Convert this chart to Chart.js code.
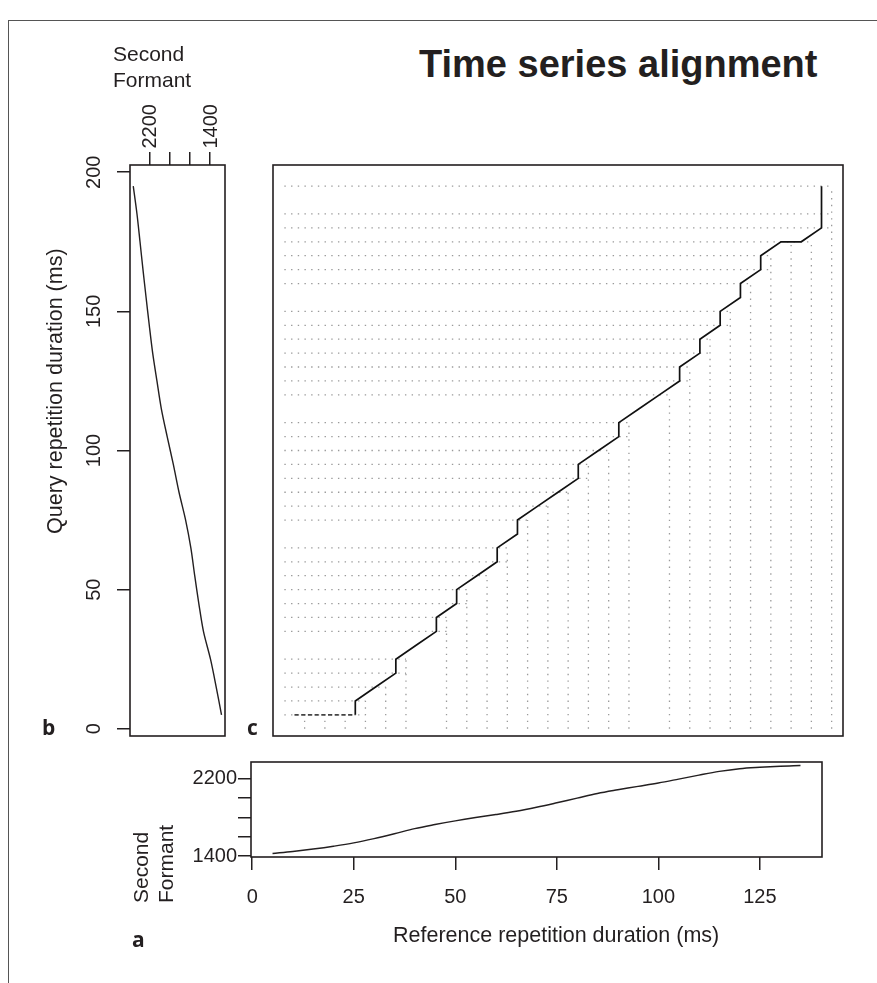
<!DOCTYPE html>
<html><head><meta charset="utf-8">
<script src="https://cdn.jsdelivr.net/npm/chart.js@4/dist/chart.umd.min.js"></script>
<style>
html,body{margin:0;padding:0;background:#fff;width:877px;height:983px;overflow:hidden;}
body{position:relative;color:#231f20;}
.frame{position:absolute;left:8px;top:20px;width:900px;height:1000px;border-left:1.5px solid #555;border-top:1.5px solid #555;}
canvas{position:absolute;}
.t{position:absolute;white-space:nowrap;color:#231f20;}
</style></head><body>
<div class="frame"></div>
<canvas id="cb" width="240" height="760" style="left:0;top:0"></canvas>
<canvas id="cc" width="590" height="591" style="left:263px;top:155px"></canvas>
<canvas id="ca" width="877" height="243" style="left:0;top:740px"></canvas>
<script>
// ---------------- data ----------------
// reference series (panel a): time (ms) and second formant (Hz)
const refTime    = [5,10,15,20,25,30,35,40,45,50,55,60,65,70,75,80,85,90,95,100,105,110,115,120,125,130,135];
const refFormant = [1427,1448,1473,1502,1536,1580,1630,1683,1725,1763,1797,1828,1862,1903,1949,1997,2045,2083,2118,2153,2193,2234,2272,2300,2315,2326,2333];
// query series (panel b): time (ms) and second formant (Hz)
const queryTime    = [5,15,25,35,45,55,65,75,85,95,105,115,125,135,145,155,165,175,185,195];
const queryFormant = [1248,1318,1393,1486,1547,1601,1652,1721,1808,1883,1964,2041,2099,2155,2200,2242,2283,2322,2362,2411];
// warping path (panel c)
const pathRef   = [5,10,15,20,20,25,30,30,35,40,40,45,45,50,55,55,60,60,65,70,75,75,80,85,85,90,95,100,100,105,105,110,110,115,115,120,120,125,130,135,135,135,135];
const pathQuery = [5,5,5,5,10,15,20,25,30,35,40,45,50,55,60,65,70,75,80,85,90,95,100,105,110,115,120,125,130,135,140,145,150,155,160,165,170,175,175,180,185,190,195];
// matched-index guide lines (dotted) in panel c
const guideRef   = [7.5,12.5,17.5,22.5,22.5,27.5,32.5,32.5,42.5,42.5,47.5,47.5,52.5,57.5,57.5,62.5,67.5,72.5,77.5,77.5,82.5,87.5,87.5,97.5,102.5,102.5,107.5,107.5,112.5,112.5,117.5,122.5,122.5,127.5,132.5,137.5,137.5,137.5];
const guideQuery = [5,5,5,5,10,15,20,25,35,40,45,50,55,60,65,75,80,85,90,95,100,105,110,120,125,130,135,140,145,150,160,165,170,175,175,180,185,195];
const guideOriginRef = 2.5, guideOriginQuery = 0;
// ticks
const timeTicks = [0,50,100,150,200];
const refTicks = [0,25,50,75,100,125];
const formantTicksA = [1400,1600,1800,2000,2200];
const formantLabelsA = ['1400','','','','2200'];
const formantTicksB = [2200,1933.33,1666.67,1400];
const formantLabelsB = ['2200','','','1400'];

// ---------------- style ----------------
const INK = '#231f20';
const FONT = '"Liberation Sans", Arial, Helvetica, sans-serif';
const TICKFONT = {family: FONT, size: 20};

const boxPlugin = {id:'box', afterDatasetsDraw(chart){
  const {ctx, chartArea:a} = chart;
  ctx.save(); ctx.strokeStyle = INK; ctx.lineWidth = 1.6;
  ctx.strokeRect(a.left, a.top, a.right-a.left, a.bottom-a.top); ctx.restore();
}};

const commonOpts = {responsive:false, animation:false, events:[], devicePixelRatio:1,
  plugins:{legend:{display:false}, tooltip:{enabled:false}, title:{display:false}}};
const tickGrid = {display:true, drawOnChartArea:false, drawTicks:true, tickLength:13, color:INK, lineWidth:1.5};

// ---------------- panel b ----------------
const rotLabelsB = {id:'rotB', afterDraw(chart){
  const ctx = chart.ctx, xs = chart.scales.x, ys = chart.scales.y, a = chart.chartArea;
  ctx.save(); ctx.fillStyle = INK; ctx.font = '20px ' + FONT; ctx.textBaseline = 'alphabetic';
  ys.ticks.forEach(t => {
    const py = ys.getPixelForValue(t.value);
    ctx.save(); ctx.translate(a.left - 30, py); ctx.rotate(-Math.PI/2);
    ctx.textAlign = 'center'; ctx.fillText(String(t.value), 0, 0); ctx.restore();
  });
  xs.ticks.forEach(t => {
    const lab = formantLabelsB[formantTicksB.indexOf(t.value)];
    if (!lab) return;
    const px = xs.getPixelForValue(t.value);
    ctx.save(); ctx.translate(px + 7.2, a.top - 16.5); ctx.rotate(-Math.PI/2);
    ctx.textAlign = 'left'; ctx.fillText(lab, 0, 0); ctx.restore();
  });
  ctx.restore();
}};
new Chart(document.getElementById('cb'), {
  type:'line',
  data:{datasets:[{data: queryTime.map((t,i)=>({x:queryFormant[i], y:t})),
    borderColor:INK, borderWidth:1.4, pointRadius:0, tension:0.3, fill:false}]},
  options:Object.assign({}, commonOpts, {
    layout:{padding:{left:0, top:0, right:15, bottom:24}},
    scales:{
      x:{type:'linear', position:'top', reverse:true, min:1202, max:2454,
         afterBuildTicks:s=>{s.ticks = formantTicksB.map(v=>({value:v}));},
         afterFit:s=>{s.height = 165;},
         ticks:{display:false}, grid:tickGrid, border:{display:false}},
      y:{type:'linear', min:-2.6, max:202.6,
         afterBuildTicks:s=>{s.ticks = timeTicks.map(v=>({value:v}));},
         afterFit:s=>{s.width = 130;},
         ticks:{display:false}, grid:tickGrid, border:{display:false}}
    }}),
  plugins:[boxPlugin, rotLabelsB]
});

// ---------------- panel c ----------------
const guideData = [];
guideRef.forEach((x,i) => {
  const y = guideQuery[i];
  guideData.push({x:guideOriginRef, y}, {x, y}, {x, y:null}, {x, y:guideOriginQuery}, {x, y}, {x, y:null});
});
const firstRow = pathQuery[0];
new Chart(document.getElementById('cc'), {
  type:'line',
  data:{datasets:[
    {data: pathRef.map((x,i)=>({x, y:pathQuery[i]})), borderColor:'#111', borderWidth:1.7,
     pointRadius:0, tension:0, fill:false, order:0,
     segment:{borderDash: c => (c.p0.parsed.y === firstRow && c.p1.parsed.y === firstRow) ? [4,2.7] : undefined,
              borderColor: c => (c.p0.parsed.y === firstRow && c.p1.parsed.y === firstRow) ? '#444' : undefined}},
    {data: guideData, borderColor:'#9a9a9a', borderWidth:1.3, borderDash:[1.4,5.3],
     pointRadius:0, tension:0, fill:false, spanGaps:false, order:1}
  ]},
  options:Object.assign({}, commonOpts, {
    layout:{padding:10},
    scales:{
      x:{type:'linear', display:false, min:-0.3, max:140.3},
      y:{type:'linear', display:false, min:-2.6, max:202.6}
    }}),
  plugins:[boxPlugin]
});

// ---------------- panel a ----------------
new Chart(document.getElementById('ca'), {
  type:'line',
  data:{datasets:[{data: refTime.map((t,i)=>({x:t, y:refFormant[i]})),
    borderColor:INK, borderWidth:1.4, pointRadius:0, tension:0.35, fill:false}]},
  options:Object.assign({}, commonOpts, {
    layout:{padding:{left:0, top:22, right:55, bottom:0}},
    scales:{
      x:{type:'linear', position:'bottom', min:-0.3, max:140.3,
         afterBuildTicks:s=>{s.ticks = refTicks.map(v=>({value:v}));},
         afterFit:s=>{s.height = 126;},
         ticks:{display:true, autoSkip:false, maxRotation:0, minRotation:0, padding:15.5, color:INK, font:TICKFONT,
                callback:v=>String(v)},
         grid:tickGrid, border:{display:false}},
      y:{type:'linear', min:1391, max:2369,
         afterBuildTicks:s=>{s.ticks = formantTicksA.map(v=>({value:v}));},
         afterFit:s=>{s.width = 251;},
         ticks:{display:true, autoSkip:false, padding:1, color:INK, font:TICKFONT,
                callback:v=>formantLabelsA[formantTicksA.indexOf(v)]},
         grid:tickGrid, border:{display:false}}
    }}),
  plugins:[boxPlugin]
});

// ---------------- text ----------------
function placeText(txt, x, y, o){
  const s = document.createElement('span');
  s.className = 't';
  s.style.font = (o.weight||'normal') + ' ' + o.size + 'px ' + (o.family || FONT);
  s.style.lineHeight = o.size + 'px';
  s.textContent = txt;
  const m = document.createElement('i');
  m.style.cssText = 'display:inline-block;width:0;height:0;vertical-align:baseline;';
  s.appendChild(m);
  document.body.appendChild(s);
  const base = m.offsetTop, w = s.offsetWidth;
  const ax = o.align === 'center' ? w/2 : (o.align === 'right' ? w : 0);
  s.style.left = (x - ax) + 'px';
  s.style.top = (y - base) + 'px';
  if (o.rotate) { s.style.transformOrigin = ax + 'px ' + base + 'px'; s.style.transform = 'rotate(' + o.rotate + 'deg)'; }
}
placeText('Time series alignment', 618, 77, {size:38, weight:'bold', align:'center'});
placeText('Second', 113, 61, {size:21});
placeText('Formant', 113, 86.7, {size:21});
placeText('Query repetition duration (ms)', 62, 391, {size:21.5, align:'center', rotate:-90});
placeText('Second', 148, 903, {size:21, rotate:-90});
placeText('Formant', 173, 903, {size:21, rotate:-90});
placeText('Reference repetition duration (ms)', 556, 941.7, {size:21.5, align:'center'});
const LFONT = '"Open Sans", "DejaVu Sans", sans-serif';
placeText('b', 42, 735, {size:21, weight:'bold', family:LFONT});
placeText('c', 247, 735, {size:21, weight:'bold', family:LFONT});
placeText('a', 132, 947, {size:21, weight:'bold', family:LFONT});
</script>
</body></html>
